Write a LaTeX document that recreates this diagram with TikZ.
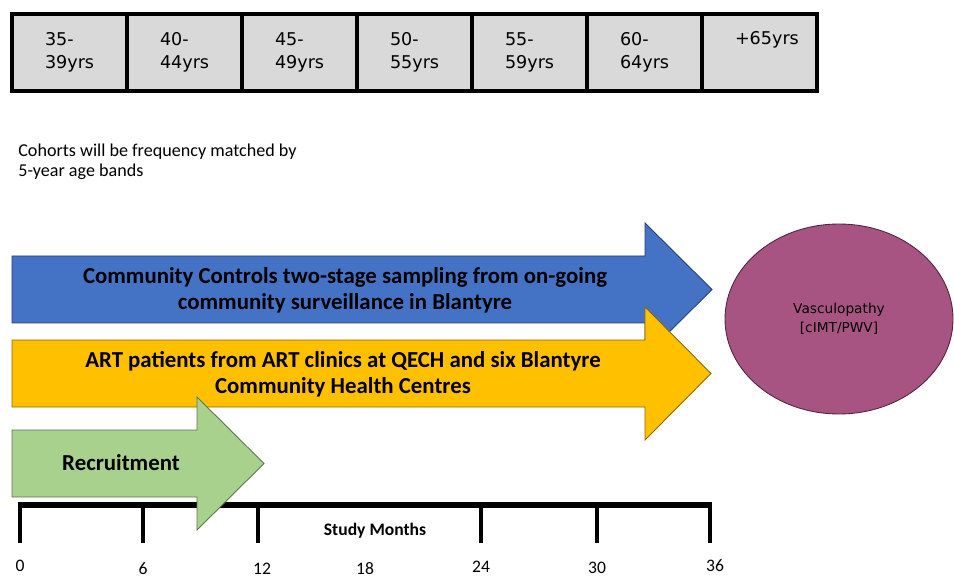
\documentclass[tikz,border=0pt]{standalone}
\usepackage{fontspec}
\setmainfont{Carlito}
\newfontfamily\agefont{DejaVu Sans}
\usetikzlibrary{positioning, shapes.geometric}

\definecolor{agegray}{RGB}{217,217,217}
\definecolor{ctrlblue}{RGB}{68,114,196}
\definecolor{artyellow}{RGB}{255,192,0}
\definecolor{recgreen}{RGB}{169,209,142}
\definecolor{vascpurple}{RGB}{168,84,130}

\begin{document}
\begin{tikzpicture}[x=0.2mm, y=-0.2mm, node distance=0pt,
  agecell/.style={draw, line width=2.3pt, fill=agegray, outer sep=0pt, minimum width=23mm, minimum height=15.4mm,
    inner xsep=6.6mm, text width=9.8mm, align=left, font=\agefont\fontsize{10}{13}\selectfont},
  blockarrow/.style={fill=#1, draw=#1!55!black, line width=0.5pt},
  arrowtext/.style={align=center, font=\bfseries\fontsize{13}{14.7}\selectfont},
  monthlbl/.style={font=\fontsize{10}{12}\selectfont}]
  \useasboundingbox (0,0) rectangle (954,577);

  % age bands
  \node[agecell, anchor=north west] (c35) at (12,14) {35-\\39yrs};
  \node[agecell, right=of c35] (c40) {40-\\44yrs};
  \node[agecell, right=of c40] (c45) {45-\\49yrs};
  \node[agecell, right=of c45] (c50) {50-\\55yrs};
  \node[agecell, right=of c50] (c55) {55-\\59yrs};
  \node[agecell, right=of c55] (c60) {60-\\64yrs};
  \node[agecell, right=of c60] (c65) {+65yrs\\\strut};

  \node[anchor=west, align=left, inner sep=0pt, font=\fontsize{10.3}{11.5}\selectfont] (cohorts) at (18,162)
    {Cohorts will be frequency matched by\\5-year age bands};

  % cohorts
  \draw[blockarrow=ctrlblue] (12,256) -- (645,256) -- (645,223) -- (712,289.5) -- (645,356) -- (645,323) -- (12,323) -- cycle;
  \node[arrowtext] (ctrltext) at (345,290) {Community Controls two-stage sampling from on-going\\community surveillance in Blantyre};
  \draw[blockarrow=artyellow] (12,340) -- (645,340) -- (645,307) -- (711,373.5) -- (645,440) -- (645,407) -- (12,407) -- cycle;
  \node[arrowtext] (arttext) at (343,374) {ART patients from ART clinics at QECH and six Blantyre\\Community Health Centres};

  % timeline
  \draw[line width=3.4pt] (18,505) -- (712,505);
  \foreach \x in {20,143,258,481,597,710}
    \draw[line width=2.3pt] (\x,505) -- (\x,543);
  \foreach \m/\x/\y in {0/20/566, 6/143/569, 12/262/569, 18/365/569, 24/481/567, 30/597/568, 36/715/566}
    \node[monthlbl] (m\m) at (\x,\y) {\m};
  \node[font=\bfseries\fontsize{10}{12}\selectfont] (months) at (375,531) {Study Months};

  \draw[blockarrow=recgreen] (12,430) -- (197,430) -- (197,397) -- (264,463.5) -- (197,530) -- (197,497) -- (12,497) -- cycle;
  \node[arrowtext] (recruit) at (121,463) {Recruitment};

  % outcome
  \node[ellipse, fill=vascpurple, draw=vascpurple!45!black, line width=0.5pt, minimum width=45.6mm, minimum height=38mm,
    align=center, font=\agefont\fontsize{7.8}{10.8}\selectfont] (vasc) at (839,319) {Vasculopathy\\{}[cIMT/PWV]};
\end{tikzpicture}
\end{document}
